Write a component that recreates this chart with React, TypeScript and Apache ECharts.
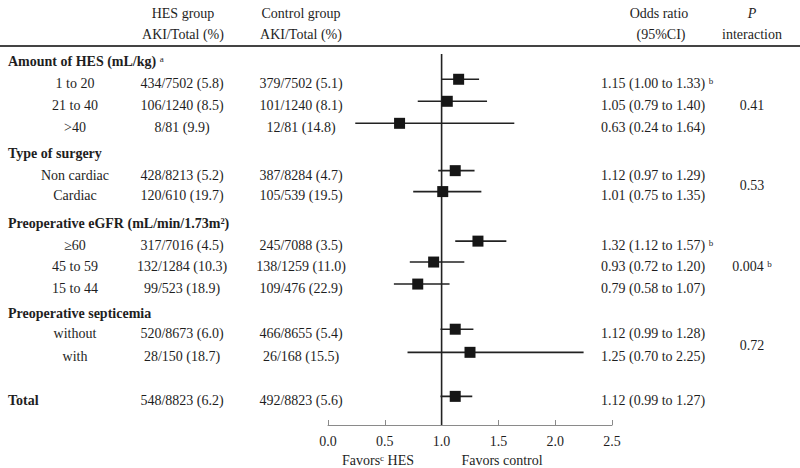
import React, { useEffect, useRef } from 'react';
import * as echarts from 'echarts';

const groupTitles = ['Amount of HES (mL/kg)', 'Type of surgery', 'Preoperative eGFR (mL/min/1.73m²)', 'Preoperative septicemia'];
const groupTitleSup = ['a', '', '', ''];
const groupTitleRows = [0, 4.15, 7.35, 11.45];

const subgroupLabels = ['1 to 20', '21 to 40', '>40', 'Non cardiac', 'Cardiac', '≥60', '45 to 59', '15 to 44', 'without', 'with', 'Total'];
const subgroupRows = [1, 2, 3, 5.15, 6.1, 8.35, 9.3, 10.3, 12.35, 13.4, 15.4];
const hesText = ['434/7502 (5.8)', '106/1240 (8.5)', '8/81 (9.9)', '428/8213 (5.2)', '120/610 (19.7)', '317/7016 (4.5)', '132/1284 (10.3)', '99/523 (18.9)', '520/8673 (6.0)', '28/150 (18.7)', '548/8823 (6.2)'];
const controlText = ['379/7502 (5.1)', '101/1240 (8.1)', '12/81 (14.8)', '387/8284 (4.7)', '105/539 (19.5)', '245/7088 (3.5)', '138/1259 (11.0)', '109/476 (22.9)', '466/8655 (5.4)', '26/168 (15.5)', '492/8823 (5.6)'];
const orValues = [1.15, 1.05, 0.63, 1.12, 1.01, 1.32, 0.93, 0.79, 1.12, 1.25, 1.12];
const ciLower = [1.0, 0.79, 0.24, 0.97, 0.75, 1.12, 0.72, 0.58, 0.99, 0.7, 0.99];
const ciUpper = [1.33, 1.4, 1.64, 1.29, 1.35, 1.57, 1.2, 1.07, 1.28, 2.25, 1.27];
const orSup = ['b', '', '', '', '', 'b', '', '', '', '', ''];

const pInteraction = ['0.41', '0.53', '0.004', '0.72'];
const pSup = ['', '', 'b', ''];
const pRows = [2, 5.62, 9.3, 12.87];

const xMin = 0;
const xMax = 2.5;
const xStep = 0.5;

const FONT = '"Liberation Serif", "Times New Roman", serif';
const INK = '#1e1e1e';

const supRich = {
  s: { fontSize: 9, fontFamily: FONT, fill: INK, verticalAlign: 'top', fontWeight: 'normal', fontStyle: 'normal' },
};

function txt(x: number, y: number, text: string, align: string, extra: any = {}) {
  return {
    type: 'text',
    x,
    y,
    silent: true,
    style: {
      text,
      fill: INK,
      fontSize: 14,
      fontFamily: FONT,
      align,
      verticalAlign: 'middle',
      rich: supRich,
      ...extra,
    },
  };
}

export default function App() {
  const ref = useRef<HTMLDivElement>(null);
  useEffect(() => {
    if (!ref.current) return;
    const chart = echarts.init(ref.current, undefined, { renderer: 'svg' });

    const rowData = subgroupRows.map((r, i) => [0, r, i]);
    const titleData = groupTitleRows.map((r, i) => [0, r, i]);
    const pData = pRows.map((r, i) => [0, r, i]);
    const forestData = orValues.map((v, i) => [v, subgroupRows[i], ciLower[i], ciUpper[i]]);

    const option: any = {
      animation: false,
      grid: { left: 328, right: 188, top: 0, bottom: 43 },
      xAxis: {
        type: 'value',
        position: 'bottom',
        min: xMin,
        max: xMax,
        interval: xStep,
        axisLine: { show: true, onZero: false, lineStyle: { color: '#8a8a8a', width: 1 } },
        axisTick: { show: true, inside: true, length: 5, lineStyle: { color: '#8a8a8a' } },
        splitLine: { show: false },
        axisLabel: {
          margin: 9,
          color: INK,
          fontSize: 14,
          fontFamily: FONT,
          formatter: (v: number) => v.toFixed(1),
        },
      },
      yAxis: { type: 'value', min: -2.8, max: 16.5, inverse: true, show: false },
      graphic: [
        txt(183, 13, 'HES group', 'center'),
        txt(183, 34, 'AKI/Total (%)', 'center'),
        txt(301, 13, 'Control group', 'center'),
        txt(301, 34, 'AKI/Total (%)', 'center'),
        txt(659, 13, 'Odds ratio', 'center'),
        txt(661, 34, '(95%CI)', 'center'),
        txt(752, 13, 'P', 'center', { fontStyle: 'italic' }),
        txt(752, 34, 'interaction', 'center'),
        {
          type: 'line',
          silent: true,
          shape: { x1: 0, y1: 46, x2: 800, y2: 46 },
          style: { stroke: '#444', lineWidth: 2 },
        },
        txt(378, 460, 'Favors{s|c} HES', 'center'),
        txt(502, 460, 'Favors control', 'center'),
      ],
      series: [
        {
          type: 'custom',
          name: 'reference',
          silent: true,
          data: [[1, -0.35, 16.5]],
          encode: { x: 0, y: 1 },
          renderItem: (params: any, api: any) => {
            const a = api.coord([api.value(0), api.value(1)]);
            const b = api.coord([api.value(0), api.value(2)]);
            return {
              type: 'line',
              shape: { x1: a[0], y1: a[1], x2: b[0], y2: b[1] },
              style: { stroke: '#222', lineWidth: 1.6 },
            };
          },
        },
        {
          type: 'custom',
          name: 'forest',
          silent: true,
          data: forestData,
          encode: { x: 0, y: 1 },
          renderItem: (params: any, api: any) => {
            const yv = api.value(1) - 0.2;
            const c = api.coord([api.value(0), yv]);
            const lo = api.coord([api.value(2), yv]);
            const hi = api.coord([api.value(3), yv]);
            const s = 11;
            return {
              type: 'group',
              children: [
                {
                  type: 'line',
                  shape: { x1: lo[0], y1: lo[1], x2: hi[0], y2: hi[1] },
                  style: { stroke: '#222', lineWidth: 1.6 },
                },
                {
                  type: 'rect',
                  shape: { x: c[0] - s / 2, y: c[1] - s / 2, width: s, height: s },
                  style: { fill: '#161616' },
                },
              ],
            };
          },
        },
        {
          type: 'custom',
          name: 'rows',
          silent: true,
          data: rowData,
          encode: { x: 0, y: 1 },
          renderItem: (params: any, api: any) => {
            const i = api.value(2);
            const y = api.coord([0, api.value(1)])[1];
            const isTotal = i === subgroupLabels.length - 1;
            const orStr = `${orValues[i].toFixed(2)} (${ciLower[i].toFixed(2)} to ${ciUpper[i].toFixed(2)})` + (orSup[i] ? ` {s|${orSup[i]}}` : '');
            return {
              type: 'group',
              children: [
                isTotal
                  ? txt(8, y, subgroupLabels[i], 'left', { fontWeight: 'bold' })
                  : txt(75, y, subgroupLabels[i], 'center'),
                txt(182, y, hesText[i], 'center'),
                txt(301, y, controlText[i], 'center'),
                txt(601, y, orStr, 'left'),
              ],
            };
          },
        },
        {
          type: 'custom',
          name: 'titles',
          silent: true,
          data: titleData,
          encode: { x: 0, y: 1 },
          renderItem: (params: any, api: any) => {
            const i = api.value(2);
            const y = api.coord([0, api.value(1)])[1];
            const t = groupTitles[i] + (groupTitleSup[i] ? ` {s|${groupTitleSup[i]}}` : '');
            return txt(8, y, t, 'left', { fontWeight: 'bold' });
          },
        },
        {
          type: 'custom',
          name: 'pvalues',
          silent: true,
          data: pData,
          encode: { x: 0, y: 1 },
          renderItem: (params: any, api: any) => {
            const i = api.value(2);
            const y = api.coord([0, api.value(1)])[1];
            const t = pInteraction[i] + (pSup[i] ? ` {s|${pSup[i]}}` : '');
            return txt(752, y, t, 'center');
          },
        },
      ],
    };
    chart.setOption(option);
    return () => chart.dispose();
  }, []);
  return <div ref={ref} style={{ position: 'absolute', left: 0, top: 0, width: 800, height: 468, background: '#fff' }} />;
}
